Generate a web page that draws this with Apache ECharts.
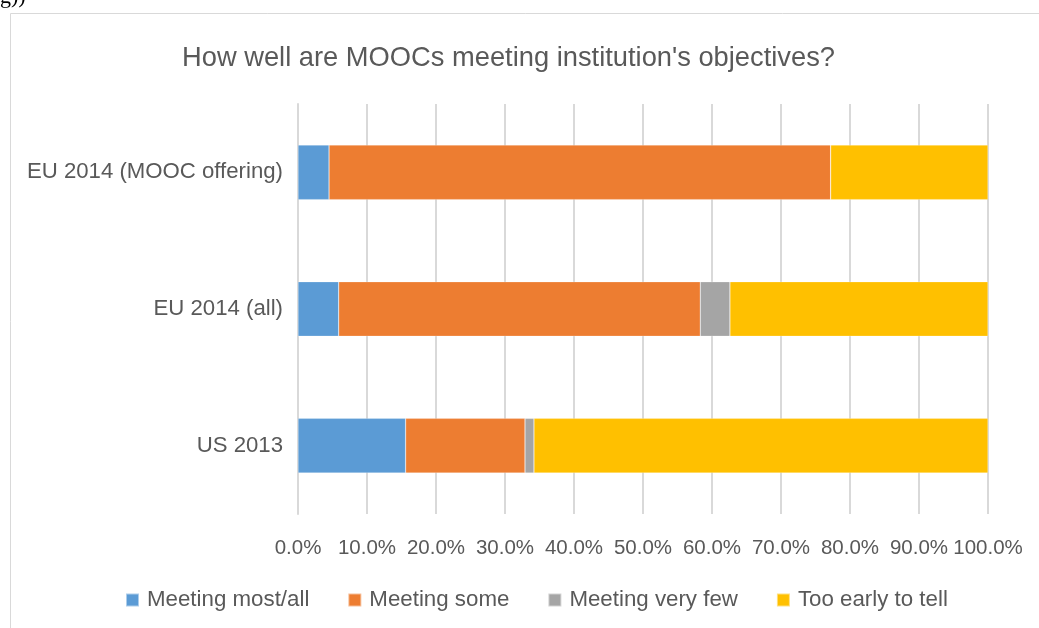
<!DOCTYPE html>
<html>
<head>
<meta charset="utf-8">
<style>
  html, body { margin: 0; padding: 0; background: #fff; }
  #chart { width: 1039px; height: 628px; }
</style>
<script src="https://cdn.jsdelivr.net/npm/echarts@6/dist/echarts.min.js"></script>
</head>
<body>
<div id="chart"></div>
<script>
const categories = ['US 2013', 'EU 2014 (all)', 'EU 2014 (MOOC offering)'];
const seriesNames = ['Meeting most/all', 'Meeting some', 'Meeting very few', 'Too early to tell'];
const meetingMostAll = [15.6, 5.9, 4.5];
const meetingSome = [17.3, 52.4, 72.7];
const meetingVeryFew = [1.3, 4.3, 0.0];
const tooEarlyToTell = [65.8, 37.4, 22.8];
const xTicks = [0, 10, 20, 30, 40, 50, 60, 70, 80, 90, 100];
const colors = ['#5b9bd5', '#ed7d31', '#a5a5a5', '#ffc000'];

const values = [meetingMostAll, meetingSome, meetingVeryFew, tooEarlyToTell];
const font = "'Liberation Sans', 'DejaVu Sans', sans-serif";

const chart = echarts.init(document.getElementById('chart'), null, { renderer: 'canvas' });
chart.setOption({
  animation: false,
  color: colors,
  title: {
    text: "How well are MOOCs meeting institution's objectives?",
    left: 177,
    top: 40,
    textStyle: { fontFamily: font, fontSize: 27.3, fontWeight: 'normal', color: '#595959' }
  },
  graphic: [
    { type: 'rect', shape: { x: 10.5, y: 13.5, width: 1100, height: 700 },
      style: { fill: 'none', stroke: '#d9d9d9', lineWidth: 1 }, silent: true },
    { type: 'text', left: 0, top: -14,
      style: { text: 'g))', font: "22px 'Liberation Serif', serif", fill: '#000' } }
  ],
  legend: {
    left: 120,
    top: 584,
    itemWidth: 13,
    itemHeight: 13,
    itemGap: 38,
    icon: 'rect',
    textStyle: { fontFamily: font, fontSize: 22.3, color: '#595959', padding: [0, 0, 0, 3] },
    data: seriesNames
  },
  grid: { left: 298, right: 51, top: 104, bottom: 114, containLabel: false },
  xAxis: {
    type: 'value',
    min: 0,
    max: 100,
    interval: 10,
    axisLine: { show: false },
    axisTick: { show: false },
    splitLine: { show: true, lineStyle: { color: '#d9d9d9', width: 2 } },
    axisLabel: {
      margin: 24,
      fontFamily: font, fontSize: 20.5, color: '#595959',
      formatter: v => xTicks.includes(v) ? v.toFixed(1) + '%' : ''
    }
  },
  yAxis: {
    type: 'category',
    data: categories,
    axisLine: { show: true, lineStyle: { color: '#d9d9d9', width: 2 } },
    axisTick: { show: false },
    axisLabel: { margin: 15, fontFamily: font, fontSize: 22.2, color: '#595959' }
  },
  series: seriesNames.map((name, i) => ({
    name: name,
    type: 'bar',
    stack: 'total',
    barCategoryGap: '60%',
    data: values[i],
    itemStyle: { color: colors[i], borderColor: 'rgba(255,255,255,0.5)', borderWidth: 0.5 }
  }))
});
</script>
</body>
</html>
